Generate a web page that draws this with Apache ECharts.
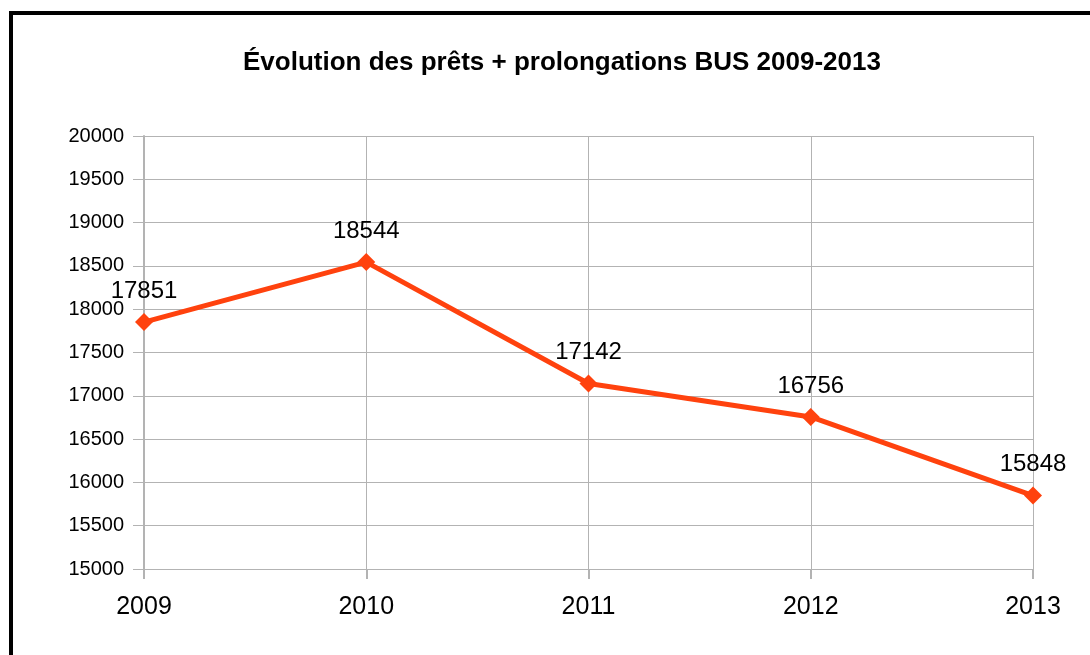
<!DOCTYPE html>
<html>
<head>
<meta charset="utf-8">
<script src="https://cdn.jsdelivr.net/npm/echarts@6/dist/echarts.min.js"></script>
<style>
  html, body { margin: 0; padding: 0; background: #fff; }
  #chart { width: 1090px; height: 655px; }
</style>
</head>
<body>
<div id="chart"></div>
<script>
// données
var years = ["2009", "2010", "2011", "2012", "2013"];
var prets = [17851, 18544, 17142, 16756, 15848];

var chart = echarts.init(document.getElementById("chart"));

var option = {
  backgroundColor: "#fff",
  animation: false,
  // cadre noir (gauche + haut)
  graphic: [{
    type: "rect",
    shape: { x: 11, y: 13, width: 1200, height: 800 },
    style: { fill: "none", stroke: "#000", lineWidth: 4 },
    silent: true
  }],
  title: {
    text: "Évolution des prêts + prolongations BUS 2009-2013",
    left: 238,
    top: 45,
    textStyle: {
      color: "#000",
      fontSize: 26,
      fontWeight: "bold",
      fontFamily: "Liberation Sans"
    }
  },
  grid: { left: 144, right: 57, top: 136, bottom: 86 },
  xAxis: {
    type: "category",
    data: years,
    boundaryGap: false,
    axisLine: { show: false },
    axisTick: { show: true, length: 10, lineStyle: { color: "#b3b3b3", width: 2 } },
    splitLine: { show: true, lineStyle: { color: "#b3b3b3", width: 1 } },
    axisLabel: {
      color: "#000",
      fontSize: 25,
      fontFamily: "Liberation Sans",
      margin: 26
    }
  },
  yAxis: {
    type: "value",
    min: 15000,
    max: 20000,
    interval: 500,
    axisLine: { show: true, lineStyle: { color: "#b3b3b3", width: 2 } },
    axisTick: { show: true, length: 11, lineStyle: { color: "#b3b3b3", width: 1 } },
    splitLine: { show: true, lineStyle: { color: "#b3b3b3", width: 1 } },
    axisLabel: {
      color: "#000",
      fontSize: 20,
      fontFamily: "Liberation Sans",
      margin: 20,
      formatter: function (v) { return String(v); }
    }
  },
  series: [{
    type: "line",
    data: prets,
    symbol: "diamond",
    symbolSize: 18,
    lineStyle: { color: "#ff420e", width: 5 },
    itemStyle: { color: "#ff420e" },
    label: {
      show: true,
      position: "top",
      distance: 10,
      color: "#000",
      fontSize: 24,
      fontFamily: "Liberation Sans"
    }
  }]
};

chart.setOption(option);
</script>
</body>
</html>
